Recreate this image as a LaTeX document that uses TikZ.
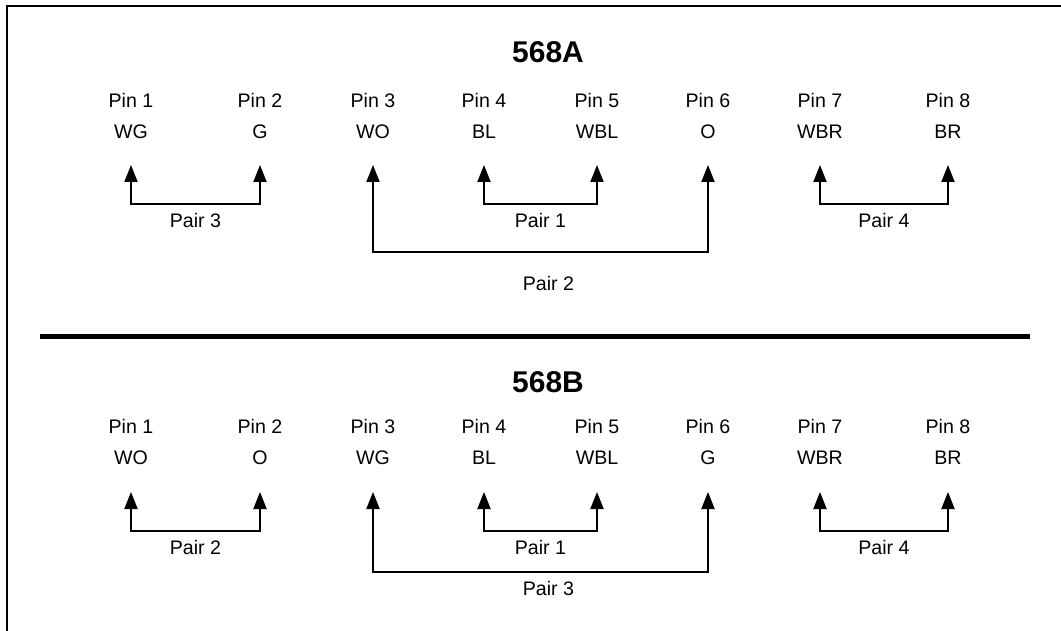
\documentclass[tikz,border=0pt]{standalone}
\usepackage{fontspec}
\setmainfont{Liberation Sans}
\usetikzlibrary{arrows.meta}

\begin{document}
\begin{tikzpicture}[x=0.5pt, y=-0.5pt, >={Triangle[length=8.5pt,width=6.5pt]},
    pinlabel/.style={font=\fontsize{9.8}{12}\selectfont, inner sep=0pt},
    pairlabel/.style={font=\fontsize{9.8}{12}\selectfont, inner sep=0pt},
    stdtitle/.style={font=\fontsize{15}{18}\selectfont\bfseries, inner sep=0pt},
    pairline/.style={<->, line width=1pt}]
    \useasboundingbox (0,0) rectangle (1061,631);
    % Open frame (only top and left edges show)
    \draw[line width=1pt] (1061,6) -- (6.5,6) -- (6.5,631);
    % Thick rule between the two standards
    \draw[line width=2.5pt] (40,336) -- (1030,336);

    % ---- 568A ----
    \node[stdtitle] (titleA) at (548,52.5) {568A};
    \foreach \i/\x/\c in {1/131/WG, 2/260/G, 3/373/WO, 4/484/BL,
                          5/597/WBL, 6/708/O, 7/820/WBR, 8/948/BR} {
      \node[pinlabel] (pinA\i) at (\x,100) {Pin \i};
      \node[pinlabel] (colA\i) at (\x,131.5) {\c};
      \coordinate (tipA\i) at (\x,165);
    }
    % bracket levels
    \coordinate (barA) at (0,204);
    \coordinate (longA) at (0,252);
    % Pair 3: pins 1-2
    \draw[pairline] (tipA1) -- (tipA1 |- barA)
      -- node[pairlabel, yshift=-8pt] (pairA3) {Pair 3} (tipA2 |- barA) -- (tipA2);
    % Pair 1: pins 4-5
    \draw[pairline] (tipA4) -- (tipA4 |- barA)
      -- node[pairlabel, yshift=-8pt] (pairA1) {Pair 1} (tipA5 |- barA) -- (tipA5);
    % Pair 2: pins 3-6
    \draw[pairline] (tipA3) -- (tipA3 |- longA)
      -- node[pairlabel, yshift=-15.5pt, xshift=4pt] (pairA2) {Pair 2} (tipA6 |- longA) -- (tipA6);
    % Pair 4: pins 7-8
    \draw[pairline] (tipA7) -- (tipA7 |- barA)
      -- node[pairlabel, yshift=-8pt] (pairA4) {Pair 4} (tipA8 |- barA) -- (tipA8);

    % ---- 568B ----
    \node[stdtitle] (titleB) at (548,382) {568B};
    \foreach \i/\x/\c in {1/131/WO, 2/260/O, 3/373/WG, 4/484/BL,
                          5/597/WBL, 6/708/G, 7/820/WBR, 8/948/BR} {
      \node[pinlabel] (pinB\i) at (\x,426) {Pin \i};
      \node[pinlabel] (colB\i) at (\x,458) {\c};
      \coordinate (tipB\i) at (\x,492);
    }
    \coordinate (barB) at (0,531);
    \coordinate (longB) at (0,572);
    % Pair 2: pins 1-2
    \draw[pairline] (tipB1) -- (tipB1 |- barB)
      -- node[pairlabel, yshift=-8pt] (pairB2) {Pair 2} (tipB2 |- barB) -- (tipB2);
    % Pair 1: pins 4-5
    \draw[pairline] (tipB4) -- (tipB4 |- barB)
      -- node[pairlabel, yshift=-8pt] (pairB1) {Pair 1} (tipB5 |- barB) -- (tipB5);
    % Pair 3: pins 3-6
    \draw[pairline] (tipB3) -- (tipB3 |- longB)
      -- node[pairlabel, yshift=-8pt, xshift=4pt] (pairB3) {Pair 3} (tipB6 |- longB) -- (tipB6);
    % Pair 4: pins 7-8
    \draw[pairline] (tipB7) -- (tipB7 |- barB)
      -- node[pairlabel, yshift=-8pt] (pairB4) {Pair 4} (tipB8 |- barB) -- (tipB8);
\end{tikzpicture}
\end{document}
